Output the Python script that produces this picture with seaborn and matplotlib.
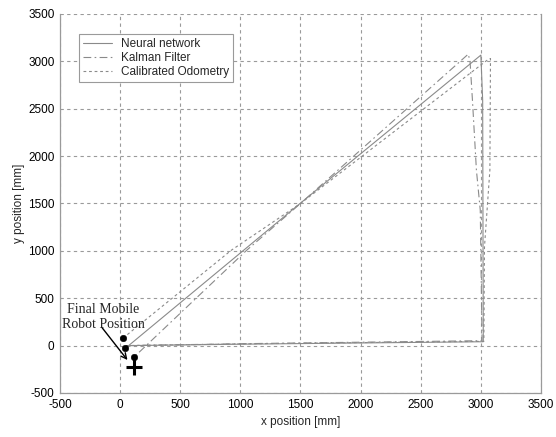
import matplotlib
matplotlib.use("Agg")
import matplotlib.pyplot as plt
import seaborn as sns
import pandas as pd
import numpy as np

# Trajectories (mm)
nn_x = [50, 1000, 2000, 3020, 3015, 3000, 1500, 44]
nn_y = [0, 15, 28, 41, 2590, 3066, 1504, -28]

kf_x = [50, 1000, 2000, 3010, 2995, 2963, 2930, 2910, 2895, 1500, 1053, 119]
kf_y = [0, 20, 36, 52, 1430, 1852, 2590, 3000, 3076, 1500, 1007, -117]

od_x = [50, 1000, 2000, 3025, 3030, 3075, 3080, 3055, 1500, 925, 22]
od_y = [0, 18, 32, 45, 1040, 1852, 3030, 3015, 1500, 1007, 77]

# Final positions
dot_x = [22, 44, 119]
dot_y = [77, -28, -117]
true_x = [119]
true_y = [-223]

series_names = ["Neural network", "Kalman Filter", "Calibrated Odometry"]
xticks = [-500, 0, 500, 1000, 1500, 2000, 2500, 3000, 3500]
yticks = [-500, 0, 500, 1000, 1500, 2000, 2500, 3000, 3500]

sns.set_style("white")
plt.rcParams['font.family'] = ['Liberation Sans', 'DejaVu Sans']

fig = plt.figure(figsize=(5.56, 4.37), dpi=100)
ax = fig.add_axes([0.1079, 0.1007, 0.8651, 0.8673])

line_color = "#8a8a8a"
styles = ["-", (0, (7, 3, 1.5, 3)), (0, (2.5, 2.5))]
data = [(nn_x, nn_y), (kf_x, kf_y), (od_x, od_y)]
for (xs, ys), name, ls in zip(data, series_names, styles):
    df = pd.DataFrame({"x": xs, "y": ys})
    sns.lineplot(data=df, x="x", y="y", sort=False, estimator=None, ax=ax,
                 color=line_color, linewidth=0.8, linestyle=ls, label=name)

sns.scatterplot(x=dot_x, y=dot_y, ax=ax, color="black", s=22, edgecolor="black", zorder=5)
ax.plot(true_x, true_y, marker="+", markersize=11, markeredgewidth=2.2, color="black",
        linestyle="none", zorder=6)

ax.text(-140, 300, "Final Mobile\nRobot Position", fontsize=10,
        family=['Liberation Serif', 'DejaVu Serif'], ha="center", va="center", linespacing=1.15)
ax.annotate("", xy=(61, -152), xytext=(-148, 186),
            arrowprops=dict(arrowstyle="->", color="black", lw=1.0, shrinkA=0, shrinkB=0))

ax.set_xlim(-500, 3500)
ax.set_ylim(-500, 3500)
ax.set_xticks(xticks)
ax.set_yticks(yticks)
ax.set_xticklabels([str(v) for v in xticks])
ax.set_yticklabels([str(v) for v in yticks])
ax.tick_params(labelsize=8.5, length=0, pad=4, colors="black")
ax.grid(True, color="#9a9a9a", linestyle=(0, (3, 3)), linewidth=0.8)
for side in ["left", "bottom", "right"]:
    ax.spines[side].set_color("#9a9a9a")
    ax.spines[side].set_linewidth(0.9)
ax.spines["top"].set_visible(False)

ax.set_xlabel("x position [mm]", fontsize=8.5, labelpad=4)
ax.set_ylabel("y position [mm]", fontsize=8.5, labelpad=2)

leg = ax.legend(loc="upper left", bbox_to_anchor=(0.04, 0.947), fontsize=8.5,
                frameon=True, fancybox=False, edgecolor="#9a9a9a", framealpha=1,
                handlelength=2.4, borderpad=0.35, labelspacing=0.15, handletextpad=0.8,
                borderaxespad=0)
leg.get_frame().set_linewidth(0.8)

fig.savefig("out.png", dpi=100)
